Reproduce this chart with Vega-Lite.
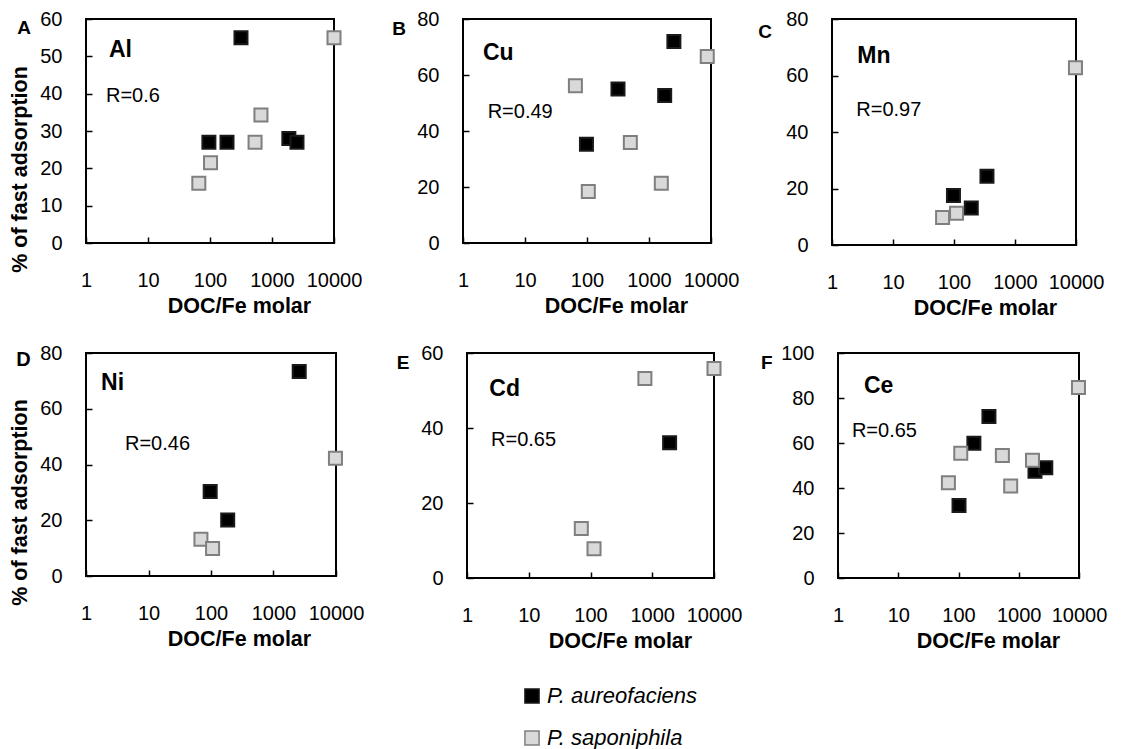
{
  "$schema": "https://vega.github.io/schema/vega-lite/v6.json",
  "background": "white",
  "padding": {"left": 8, "top": 8, "right": 5, "bottom": 5},
  "datasets": {
    "pts": [
      {"panel": "A", "species": "P. aureofaciens", "doc": 316, "pct": 55},
      {"panel": "A", "species": "P. aureofaciens", "doc": 96, "pct": 27},
      {"panel": "A", "species": "P. aureofaciens", "doc": 188, "pct": 27},
      {"panel": "A", "species": "P. aureofaciens", "doc": 1870, "pct": 28},
      {"panel": "A", "species": "P. aureofaciens", "doc": 2530, "pct": 27},
      {"panel": "A", "species": "P. saponiphila", "doc": 10000, "pct": 55},
      {"panel": "A", "species": "P. saponiphila", "doc": 663, "pct": 34.3},
      {"panel": "A", "species": "P. saponiphila", "doc": 533, "pct": 27},
      {"panel": "A", "species": "P. saponiphila", "doc": 102, "pct": 21.5},
      {"panel": "A", "species": "P. saponiphila", "doc": 66, "pct": 16},
      {"panel": "B", "species": "P. aureofaciens", "doc": 2520, "pct": 72},
      {"panel": "B", "species": "P. aureofaciens", "doc": 316, "pct": 55},
      {"panel": "B", "species": "P. aureofaciens", "doc": 1790, "pct": 52.7},
      {"panel": "B", "species": "P. aureofaciens", "doc": 98, "pct": 35.3},
      {"panel": "B", "species": "P. saponiphila", "doc": 8700, "pct": 66.6},
      {"panel": "B", "species": "P. saponiphila", "doc": 65, "pct": 56.2},
      {"panel": "B", "species": "P. saponiphila", "doc": 500, "pct": 35.9},
      {"panel": "B", "species": "P. saponiphila", "doc": 105, "pct": 18.4},
      {"panel": "B", "species": "P. saponiphila", "doc": 1580, "pct": 21.3},
      {"panel": "C", "species": "P. aureofaciens", "doc": 347, "pct": 24.3},
      {"panel": "C", "species": "P. aureofaciens", "doc": 98, "pct": 17.5},
      {"panel": "C", "species": "P. aureofaciens", "doc": 192, "pct": 13.1},
      {"panel": "C", "species": "P. saponiphila", "doc": 9800, "pct": 62.7},
      {"panel": "C", "species": "P. saponiphila", "doc": 110, "pct": 11.2},
      {"panel": "C", "species": "P. saponiphila", "doc": 65, "pct": 9.7},
      {"panel": "D", "species": "P. aureofaciens", "doc": 2580, "pct": 73.4},
      {"panel": "D", "species": "P. aureofaciens", "doc": 97, "pct": 30.3},
      {"panel": "D", "species": "P. aureofaciens", "doc": 185, "pct": 20.1},
      {"panel": "D", "species": "P. saponiphila", "doc": 9800, "pct": 42.2},
      {"panel": "D", "species": "P. saponiphila", "doc": 69, "pct": 13.2},
      {"panel": "D", "species": "P. saponiphila", "doc": 106, "pct": 9.9},
      {"panel": "E", "species": "P. aureofaciens", "doc": 1910, "pct": 36.1},
      {"panel": "E", "species": "P. saponiphila", "doc": 10000, "pct": 55.9},
      {"panel": "E", "species": "P. saponiphila", "doc": 760, "pct": 53.2},
      {"panel": "E", "species": "P. saponiphila", "doc": 71, "pct": 13.2},
      {"panel": "E", "species": "P. saponiphila", "doc": 114, "pct": 7.8},
      {"panel": "F", "species": "P. aureofaciens", "doc": 320, "pct": 71.8},
      {"panel": "F", "species": "P. aureofaciens", "doc": 180, "pct": 59.9},
      {"panel": "F", "species": "P. aureofaciens", "doc": 1860, "pct": 47.5},
      {"panel": "F", "species": "P. aureofaciens", "doc": 2810, "pct": 49},
      {"panel": "F", "species": "P. aureofaciens", "doc": 102, "pct": 32.2},
      {"panel": "F", "species": "P. saponiphila", "doc": 9800, "pct": 84.7},
      {"panel": "F", "species": "P. saponiphila", "doc": 109, "pct": 55.4},
      {"panel": "F", "species": "P. saponiphila", "doc": 535, "pct": 54.5},
      {"panel": "F", "species": "P. saponiphila", "doc": 1690, "pct": 52.3},
      {"panel": "F", "species": "P. saponiphila", "doc": 68, "pct": 42.3},
      {"panel": "F", "species": "P. saponiphila", "doc": 735, "pct": 40.9}
    ]
  },
  "config": {
    "font": "Liberation Sans",
    "view": {"stroke": "#000000", "strokeWidth": 2},
    "axis": {
      "domain": false,
      "grid": false,
      "ticks": true,
      "tickSize": -6,
      "tickColor": "#000000",
      "tickWidth": 1.5,
      "labelFont": "Liberation Sans",
      "labelFontSize": 20,
      "labelColor": "#000000",
      "labelOverlap": false,
      "labelFlush": false,
      "titleFont": "Liberation Sans",
      "titleFontSize": 21.5,
      "titleFontWeight": "bold",
      "titleColor": "#000000"
    },
    "axisX": {"labelPadding": 33, "titlePadding": 5, "titleX": 153},
    "axisY": {"labelPadding": 30, "titlePadding": 8},
    "legend": {"symbolType": "square", "symbolSize": 200, "symbolStrokeWidth": 1.5, "labelFontSize": 22, "labelFontStyle": "italic", "labelColor": "#000000", "labelOffset": 4, "rowPadding": 20, "orient": "none", "legendX": 435, "legendY": 666, "direction": "vertical"},
    "text": {"font": "Liberation Sans", "color": "#000000", "baseline": "middle"}
  },
  "resolve": {"scale": {"fill": "shared", "stroke": "shared"}, "legend": {"fill": "shared"}},
  "vconcat": [
    {
      "hconcat": [
        {
          "hconcat": [
            {
              "width": 248, "height": 224,
              "layer": [
                {
                  "data": {"name": "pts"},
                  "transform": [{"filter": "datum.panel === 'A'"}],
                  "mark": {"type": "point", "shape": "square", "filled": true, "size": 169, "strokeWidth": 2, "opacity": 1},
                  "encoding": {
                    "x": {"field": "doc", "type": "quantitative", "scale": {"type": "log", "domain": [1, 10000], "nice": false},
                      "axis": {"values": [1, 10, 100, 1000, 10000], "format": "d", "title": "DOC/Fe molar"}},
                    "y": {"field": "pct", "type": "quantitative", "scale": {"domain": [0, 60], "nice": false},
                      "axis": {"values": [0, 10, 20, 30, 40, 50, 60], "title": "% of fast adsorption", "titleY": 150}},
                    "fill": {"field": "species", "type": "nominal", "scale": {"domain": ["P. aureofaciens", "P. saponiphila"], "range": ["#000000", "#d9d9d9"]},
                      "legend": {"orient": "none", "legendX": 435, "legendY": 666, "direction": "vertical", "title": null}},
                    "stroke": {"field": "species", "type": "nominal", "scale": {"domain": ["P. aureofaciens", "P. saponiphila"], "range": ["#1a1a1a", "#7f7f7f"]}, "legend": null}
                  }
                },
                {"data": {"values": [{}]}, "mark": {"type": "text", "text": "A", "fontSize": 19, "fontWeight": "bold", "align": "center"}, "encoding": {"x": {"datum": 0.1}, "y": {"datum": 57.6, "axis": {"values": [0, 10, 20, 30, 40, 50, 60]}}}},
                {"data": {"values": [{}]}, "mark": {"type": "text", "text": "Al", "fontSize": 23, "fontWeight": "bold", "align": "left"}, "encoding": {"x": {"datum": 2.35}, "y": {"datum": 51.7, "axis": {"values": [0, 10, 20, 30, 40, 50, 60]}}}},
                {"data": {"values": [{}]}, "mark": {"type": "text", "text": "R=0.6", "fontSize": 20, "align": "left"}, "encoding": {"x": {"datum": 2.1}, "y": {"datum": 39.4, "axis": {"values": [0, 10, 20, 30, 40, 50, 60]}}}}
              ]
            },
            {
              "width": 248, "height": 224,
              "layer": [
                {
                  "data": {"name": "pts"},
                  "transform": [{"filter": "datum.panel === 'B'"}],
                  "mark": {"type": "point", "shape": "square", "filled": true, "size": 169, "strokeWidth": 2, "opacity": 1},
                  "encoding": {
                    "x": {"field": "doc", "type": "quantitative", "scale": {"type": "log", "domain": [1, 10000], "nice": false},
                      "axis": {"values": [1, 10, 100, 1000, 10000], "format": "d", "title": "DOC/Fe molar"}},
                    "y": {"field": "pct", "type": "quantitative", "scale": {"domain": [0, 80], "nice": false},
                      "axis": {"values": [0, 20, 40, 60, 80], "title": null}},
                    "fill": {"field": "species", "type": "nominal", "scale": {"domain": ["P. aureofaciens", "P. saponiphila"], "range": ["#000000", "#d9d9d9"]},
                      "legend": {"orient": "none", "legendX": 435, "legendY": 666, "direction": "vertical", "title": null}},
                    "stroke": {"field": "species", "type": "nominal", "scale": {"domain": ["P. aureofaciens", "P. saponiphila"], "range": ["#1a1a1a", "#7f7f7f"]}, "legend": null}
                  }
                },
                {"data": {"values": [{}]}, "mark": {"type": "text", "text": "B", "fontSize": 19, "fontWeight": "bold", "align": "center"}, "encoding": {"x": {"datum": 0.093}, "y": {"datum": 76.4}}},
                {"data": {"values": [{}]}, "mark": {"type": "text", "text": "Cu", "fontSize": 23, "fontWeight": "bold", "align": "left"}, "encoding": {"x": {"datum": 2.1}, "y": {"datum": 67.9}}},
                {"data": {"values": [{}]}, "mark": {"type": "text", "text": "R=0.49", "fontSize": 20, "align": "left"}, "encoding": {"x": {"datum": 2.5}, "y": {"datum": 46.9}}}
              ]
            }
          ],
          "spacing": 28
        },
        {
          "width": 244, "height": 226,
          "layer": [
            {
              "data": {"name": "pts"},
              "transform": [{"filter": "datum.panel === 'C'"}],
              "mark": {"type": "point", "shape": "square", "filled": true, "size": 169, "strokeWidth": 2, "opacity": 1},
              "encoding": {
                "x": {"field": "doc", "type": "quantitative", "scale": {"type": "log", "domain": [1, 10000], "nice": false},
                  "axis": {"values": [1, 10, 100, 1000, 10000], "format": "d", "title": "DOC/Fe molar"}},
                "y": {"field": "pct", "type": "quantitative", "scale": {"domain": [0, 80], "nice": false},
                  "axis": {"values": [0, 20, 40, 60, 80], "title": null}},
                "fill": {"field": "species", "type": "nominal", "scale": {"domain": ["P. aureofaciens", "P. saponiphila"], "range": ["#000000", "#d9d9d9"]},
                  "legend": {"orient": "none", "legendX": 435, "legendY": 666, "direction": "vertical", "title": null}},
                "stroke": {"field": "species", "type": "nominal", "scale": {"domain": ["P. aureofaciens", "P. saponiphila"], "range": ["#1a1a1a", "#7f7f7f"]}, "legend": null}
              }
            },
            {"data": {"values": [{}]}, "mark": {"type": "text", "text": "C", "fontSize": 19, "fontWeight": "bold", "align": "center"}, "encoding": {"x": {"datum": 0.08}, "y": {"datum": 75.4}}},
            {"data": {"values": [{}]}, "mark": {"type": "text", "text": "Mn", "fontSize": 23, "fontWeight": "bold", "align": "left"}, "encoding": {"x": {"datum": 2.6}, "y": {"datum": 66.9}}},
            {"data": {"values": [{}]}, "mark": {"type": "text", "text": "R=0.97", "fontSize": 20, "align": "left"}, "encoding": {"x": {"datum": 2.5}, "y": {"datum": 47.8}}}
          ]
        }
      ],
      "spacing": 17
    },
    {
      "hconcat": [
        {
          "hconcat": [
            {
              "width": 250, "height": 223,
              "layer": [
                {
                  "data": {"name": "pts"},
                  "transform": [{"filter": "datum.panel === 'D'"}],
                  "mark": {"type": "point", "shape": "square", "filled": true, "size": 169, "strokeWidth": 2, "opacity": 1},
                  "encoding": {
                    "x": {"field": "doc", "type": "quantitative", "scale": {"type": "log", "domain": [1, 10000], "nice": false},
                      "axis": {"values": [1, 10, 100, 1000, 10000], "format": "d", "title": "DOC/Fe molar"}},
                    "y": {"field": "pct", "type": "quantitative", "scale": {"domain": [0, 80], "nice": false},
                      "axis": {"values": [0, 20, 40, 60, 80], "title": "% of fast adsorption", "titleY": 149}},
                    "fill": {"field": "species", "type": "nominal", "scale": {"domain": ["P. aureofaciens", "P. saponiphila"], "range": ["#000000", "#d9d9d9"]},
                      "legend": {"orient": "none", "legendX": 435, "legendY": 666, "direction": "vertical", "title": null}},
                    "stroke": {"field": "species", "type": "nominal", "scale": {"domain": ["P. aureofaciens", "P. saponiphila"], "range": ["#1a1a1a", "#7f7f7f"]}, "legend": null}
                  }
                },
                {"data": {"values": [{}]}, "mark": {"type": "text", "text": "D", "fontSize": 20, "fontWeight": "bold", "align": "center"}, "encoding": {"x": {"datum": 0.1}, "y": {"datum": 77.5}}},
                {"data": {"values": [{}]}, "mark": {"type": "text", "text": "Ni", "fontSize": 23, "fontWeight": "bold", "align": "left"}, "encoding": {"x": {"datum": 1.74}, "y": {"datum": 69.2}}},
                {"data": {"values": [{}]}, "mark": {"type": "text", "text": "R=0.46", "fontSize": 20, "align": "left"}, "encoding": {"x": {"datum": 4.2}, "y": {"datum": 47.4}}}
              ]
            },
            {
              "width": 247, "height": 225,
              "layer": [
                {
                  "data": {"name": "pts"},
                  "transform": [{"filter": "datum.panel === 'E'"}],
                  "mark": {"type": "point", "shape": "square", "filled": true, "size": 169, "strokeWidth": 2, "opacity": 1},
                  "encoding": {
                    "x": {"field": "doc", "type": "quantitative", "scale": {"type": "log", "domain": [1, 10000], "nice": false},
                      "axis": {"values": [1, 10, 100, 1000, 10000], "format": "d", "title": "DOC/Fe molar"}},
                    "y": {"field": "pct", "type": "quantitative", "scale": {"domain": [0, 60], "nice": false},
                      "axis": {"values": [0, 20, 40, 60], "title": null}},
                    "fill": {"field": "species", "type": "nominal", "scale": {"domain": ["P. aureofaciens", "P. saponiphila"], "range": ["#000000", "#d9d9d9"]},
                      "legend": {"orient": "none", "legendX": 435, "legendY": 666, "direction": "vertical", "title": null}},
                    "stroke": {"field": "species", "type": "nominal", "scale": {"domain": ["P. aureofaciens", "P. saponiphila"], "range": ["#1a1a1a", "#7f7f7f"]}, "legend": null}
                  }
                },
                {"data": {"values": [{}]}, "mark": {"type": "text", "text": "E", "fontSize": 19, "fontWeight": "bold", "align": "center"}, "encoding": {"x": {"datum": 0.092}, "y": {"datum": 57.3}}},
                {"data": {"values": [{}]}, "mark": {"type": "text", "text": "Cd", "fontSize": 23, "fontWeight": "bold", "align": "left"}, "encoding": {"x": {"datum": 2.3}, "y": {"datum": 50.4}}},
                {"data": {"values": [{}]}, "mark": {"type": "text", "text": "R=0.65", "fontSize": 20, "align": "left"}, "encoding": {"x": {"datum": 2.45}, "y": {"datum": 36.8}}}
              ]
            }
          ],
          "spacing": 30
        },
        {
          "width": 241, "height": 225,
          "layer": [
            {
              "data": {"name": "pts"},
              "transform": [{"filter": "datum.panel === 'F'"}],
              "mark": {"type": "point", "shape": "square", "filled": true, "size": 169, "strokeWidth": 2, "opacity": 1},
              "encoding": {
                "x": {"field": "doc", "type": "quantitative", "scale": {"type": "log", "domain": [1, 10000], "nice": false},
                  "axis": {"values": [1, 10, 100, 1000, 10000], "format": "d", "title": "DOC/Fe molar", "titleX": 150}},
                "y": {"field": "pct", "type": "quantitative", "scale": {"domain": [0, 100], "nice": false},
                  "axis": {"values": [0, 20, 40, 60, 80, 100], "title": null}},
                "fill": {"field": "species", "type": "nominal", "scale": {"domain": ["P. aureofaciens", "P. saponiphila"], "range": ["#000000", "#d9d9d9"]},
                  "legend": {"orient": "none", "legendX": 435, "legendY": 666, "direction": "vertical", "title": null}},
                "stroke": {"field": "species", "type": "nominal", "scale": {"domain": ["P. aureofaciens", "P. saponiphila"], "range": ["#1a1a1a", "#7f7f7f"]}, "legend": null}
              }
            },
            {"data": {"values": [{}]}, "mark": {"type": "text", "text": "F", "fontSize": 19, "fontWeight": "bold", "align": "center"}, "encoding": {"x": {"datum": 0.066}, "y": {"datum": 95.6}}},
            {"data": {"values": [{}]}, "mark": {"type": "text", "text": "Ce", "fontSize": 23, "fontWeight": "bold", "align": "left"}, "encoding": {"x": {"datum": 2.7}, "y": {"datum": 85.3}}},
            {"data": {"values": [{}]}, "mark": {"type": "text", "text": "R=0.65", "fontSize": 20, "align": "left"}, "encoding": {"x": {"datum": 1.7}, "y": {"datum": 65.3}}}
          ]
        }
      ],
      "spacing": 17
    }
  ],
  "spacing": 22
}
